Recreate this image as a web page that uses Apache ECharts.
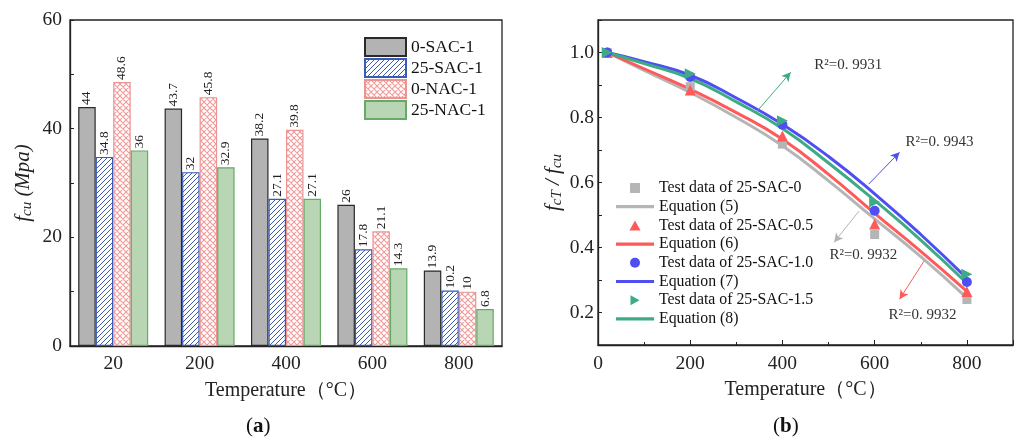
<!DOCTYPE html>
<html>
<head>
<meta charset="utf-8">
<script src="https://cdn.jsdelivr.net/npm/echarts@6/dist/echarts.min.js"></script>
<style>html,body{margin:0;padding:0;background:#fff;}#c{width:1016px;height:442px;}</style>
</head>
<body>
<div id="c"></div>
<script>
// ---- Panel (a) data ----
const categories = ['20', '200', '400', '600', '800'];
const sac0_1 = [44, 43.7, 38.2, 26, 13.9];
const sac25_1 = [34.8, 32, 27.1, 17.8, 10.2];
const nac0_1 = [48.6, 45.8, 39.8, 21.1, 10];
const nac25_1 = [36, 32.9, 27.1, 14.3, 6.8];
const barNames = ['0-SAC-1', '25-SAC-1', '0-NAC-1', '25-NAC-1'];

// ---- Panel (b) data ----
const testX = [20, 200, 400, 600, 800];
const test0 = [1.0, 0.895, 0.718, 0.44, 0.24];
const test05 = [1.0, 0.885, 0.743, 0.472, 0.265];
const test10 = [1.0, 0.925, 0.778, 0.513, 0.294];
const test15 = [1.0, 0.935, 0.79, 0.54, 0.318];
const eqX = [20, 100, 200, 300, 400, 500, 600, 700, 800];
const eq5 = [1.0, 0.945, 0.877, 0.80, 0.713, 0.605, 0.488, 0.372, 0.245];
const eq6 = [1.0, 0.95, 0.887, 0.815, 0.733, 0.625, 0.505, 0.388, 0.265];
const eq7 = [1.0, 0.972, 0.93, 0.86, 0.779, 0.68, 0.565, 0.44, 0.305];
const eq8 = [1.0, 0.966, 0.92, 0.848, 0.766, 0.66, 0.545, 0.423, 0.29];
const yTicksB = ['0.2', '0.4', '0.6', '0.8', '1.0'];

// annotation arrows / R² labels (data coordinates)
const arrowGreen = [[343, 0.816], [418, 0.939]];
const arrowBlue = [[587, 0.595], [654, 0.693]];
const arrowGray = [[566, 0.512], [512, 0.416]];
const arrowRed = [[707, 0.358], [654, 0.241]];
const textGreen = [458, 0.961];
const textBlue = [656, 0.724];
const textGray = [491, 0.376];
const textRed = [619, 0.192];
const r2Green = 'R²=0. 9931', r2Blue = 'R²=0. 9943', r2Gray = 'R²=0. 9932', r2Red = 'R²=0. 9932';

const SERIF = '"Liberation Serif", "Times New Roman", serif';

function hatch() {
  const c = document.createElement('canvas'); c.width = 5; c.height = 5;
  const g = c.getContext('2d');
  g.fillStyle = '#fff'; g.fillRect(0, 0, 5, 5);
  g.strokeStyle = '#3a5ab5'; g.lineWidth = 1;
  g.beginPath();
  g.moveTo(0, 5); g.lineTo(5, 0);
  g.moveTo(-1, 1); g.lineTo(1, -1);
  g.moveTo(4, 6); g.lineTo(6, 4);
  g.stroke();
  return c;
}
function cross() {
  const c = document.createElement('canvas'); c.width = 6; c.height = 6;
  const g = c.getContext('2d');
  g.fillStyle = '#fff'; g.fillRect(0, 0, 6, 6);
  g.strokeStyle = '#f09a9a'; g.lineWidth = 1.1;
  g.beginPath();
  g.moveTo(0, 6); g.lineTo(6, 0);
  g.moveTo(0, 0); g.lineTo(6, 6);
  g.moveTo(-1, 1); g.lineTo(1, -1);
  g.moveTo(5, 7); g.lineTo(7, 5);
  g.moveTo(-1, 5); g.lineTo(1, 7);
  g.moveTo(5, -1); g.lineTo(7, 1);
  g.stroke();
  return c;
}

const barStyles = [
  { color: '#b3b3b3', borderColor: '#2a2a2a', borderWidth: 1.2 },
  { color: { image: hatch(), repeat: 'repeat' }, borderColor: '#3a5ab8', borderWidth: 1.2 },
  { color: { image: cross(), repeat: 'repeat' }, borderColor: '#ec9494', borderWidth: 1.2 },
  { color: '#b8d6b3', borderColor: '#66aa66', borderWidth: 1.2 }
];
const barData = [sac0_1, sac25_1, nac0_1, nac25_1];

const barSeries = barData.map((d, i) => ({
  name: barNames[i], type: 'bar', xAxisIndex: 0, yAxisIndex: 0,
  data: d, barWidth: 17.5, barGap: '0%',
  itemStyle: barStyles[i],
  label: {
    show: true, position: 'top', rotate: 90, align: 'left', verticalAlign: 'middle',
    distance: 2, fontFamily: SERIF, fontSize: 13.5, color: '#222'
  }
}));

function pairs(xs, ys) { return xs.map((x, i) => [x, ys[i]]); }

const C_GRAY = '#b5b5b5', C_RED = '#ff5a5a', C_BLUE = '#4e4ef2', C_GREEN = '#3dab84';

function arrowMark(a, color) {
  return {
    silent: true, symbol: ['none', 'arrow'], symbolSize: [7, 9],
    lineStyle: { color: color, width: 1, type: 'solid' },
    label: { show: false }, emphasis: { disabled: true },
    data: [[{ coord: a[0] }, { coord: a[1] }]]
  };
}
function textMark(p, txt) {
  return {
    silent: true,
    data: [{ coord: p, symbol: 'circle', symbolSize: 0,
      label: { show: true, position: 'right', distance: 5, formatter: txt,
        fontFamily: SERIF, fontSize: 15, color: '#333' } }]
  };
}

const lineBase = (name, ys, color, arrow, txt) => ({
  name: name, type: 'line', xAxisIndex: 1, yAxisIndex: 1,
  data: pairs(eqX, ys), smooth: 0.5, symbol: 'none', showSymbol: false,
  lineStyle: { color: color, width: 3 }, itemStyle: { color: color }, z: 3,
  markLine: arrowMark(arrow, color), markPoint: textMark(txt[0], txt[1])
});
const scat = (name, ys, symbol, color, size, rot) => ({
  name: name, type: 'scatter', xAxisIndex: 1, yAxisIndex: 1,
  data: pairs(testX, ys), symbol: symbol, symbolSize: size, symbolRotate: rot || 0,
  itemStyle: { color: color, opacity: 1 }, z: 5
});

const rightSeries = [
  lineBase('Equation (5)', eq5, C_GRAY, arrowGray, [textGray, r2Gray]),
  lineBase('Equation (6)', eq6, C_RED, arrowRed, [textRed, r2Red]),
  lineBase('Equation (7)', eq7, C_BLUE, arrowBlue, [textBlue, r2Blue]),
  lineBase('Equation (8)', eq8, C_GREEN, arrowGreen, [textGreen, r2Green]),
  scat('Test data of 25-SAC-0', test0, 'rect', C_GRAY, 9),
  scat('Test data of 25-SAC-0.5', test05, 'triangle', C_RED, 11),
  scat('Test data of 25-SAC-1.0', test10, 'circle', C_BLUE, 10),
  scat('Test data of 25-SAC-1.5', test15, 'triangle', C_GREEN, 11, -90)
];

const ICON_LINE = 'path://M0,0H38V3.2H0Z';
const ICON_SQ = 'path://M0,0H9V9H0Z';
const ICON_TRI = 'path://M5,0L10,9L0,9Z';
const ICON_RTRI = 'path://M0,0L9,5L0,10Z';
const ICON_CIR = 'circle';

const axisLineStyle = { lineStyle: { color: '#222', width: 1.3 } };
const yNameRich = {
  i: { fontFamily: SERIF, fontStyle: 'italic', fontSize: 21, color: '#222', lineHeight: 24 },
  s: { fontFamily: SERIF, fontStyle: 'italic', fontSize: 15, color: '#222', verticalAlign: 'bottom', lineHeight: 20 }
};

const option = {
  animation: false,
  backgroundColor: '#fff',
  graphic: [
    { type: 'text', left: 246, top: 416, z: 10, style: {
      text: '{n|(}{b|a}{n|)}', rich: { n: { fontFamily: SERIF, fontSize: 21, fill: '#111' }, b: { fontFamily: SERIF, fontSize: 21, fontWeight: 'bold', fill: '#111' } } } },
    { type: 'text', left: 773, top: 416, z: 10, style: {
      text: '{n|(}{b|b}{n|)}', rich: { n: { fontFamily: SERIF, fontSize: 21, fill: '#111' }, b: { fontFamily: SERIF, fontSize: 21, fontWeight: 'bold', fill: '#111' } } } }
  ],
  grid: [
    { left: 70, top: 20, width: 432, height: 326, show: true, borderColor: '#222', borderWidth: 1.3, backgroundColor: 'transparent' },
    { left: 598, top: 20, width: 420, height: 325, show: true, borderColor: '#222', borderWidth: 1.3, backgroundColor: 'transparent' }
  ],
  legend: [
    {
      data: barNames, orient: 'vertical', left: 359, top: 32, itemWidth: 41, itemHeight: 18, itemGap: 1,
      icon: 'rect', textStyle: { fontFamily: SERIF, fontSize: 17.5, color: '#111' },
      selectedMode: false
    },
    {
      data: [
        { name: 'Test data of 25-SAC-0', icon: ICON_SQ },
        { name: 'Equation (5)', icon: ICON_LINE },
        { name: 'Test data of 25-SAC-0.5', icon: ICON_TRI },
        { name: 'Equation (6)', icon: ICON_LINE },
        { name: 'Test data of 25-SAC-1.0', icon: ICON_CIR },
        { name: 'Equation (7)', icon: ICON_LINE },
        { name: 'Test data of 25-SAC-1.5', icon: ICON_RTRI },
        { name: 'Equation (8)', icon: ICON_LINE }
      ],
      symbolKeepAspect: true,
      orient: 'vertical', left: 611, top: 175, itemWidth: 38, itemHeight: 10, itemGap: 2.7,
      textStyle: { fontFamily: SERIF, fontSize: 15.8, color: '#111', lineHeight: 16 },
      selectedMode: false
    }
  ],
  xAxis: [
    {
      type: 'category', gridIndex: 0, data: categories,
      axisLine: axisLineStyle,
      axisTick: { inside: true, length: 4, alignWithLabel: false, lineStyle: { color: '#222' } },
      axisLabel: { fontFamily: SERIF, fontSize: 19.5, color: '#222', margin: 8 },
      name: 'Temperature（°C）', nameLocation: 'middle', nameGap: 35,
      nameTextStyle: { fontFamily: SERIF, fontSize: 20, color: '#222' }
    },
    {
      type: 'value', gridIndex: 1, min: 0, max: 900, interval: 200,
      axisLine: axisLineStyle,
      axisTick: { inside: true, length: 5, lineStyle: { color: '#222' } },
      minorTick: { show: true, splitNumber: 2, length: 3, lineStyle: { color: '#222' } },
      splitLine: { show: false },
      axisLabel: { fontFamily: SERIF, fontSize: 19.5, color: '#222', margin: 9,
        formatter: v => (v > 850 ? '' : String(v)) },
      name: 'Temperature（°C）', nameLocation: 'middle', nameGap: 35,
      nameTextStyle: { fontFamily: SERIF, fontSize: 20, color: '#222' }
    }
  ],
  yAxis: [
    {
      type: 'value', gridIndex: 0, min: 0, max: 60, interval: 20,
      axisLine: { show: true, lineStyle: { color: '#222', width: 1.3 } },
      axisTick: { show: true, inside: true, length: 4, lineStyle: { color: '#222' } },
      minorTick: { show: true, splitNumber: 2, length: 4, lineStyle: { color: '#222' } },
      splitLine: { show: false },
      axisLabel: { fontFamily: SERIF, fontSize: 19.5, color: '#222', margin: 8 },
      name: '{i|f}{s|cu}{i| (Mpa)}', nameLocation: 'middle', nameGap: 35, nameRotate: 90,
      nameTextStyle: { rich: yNameRich }
    },
    {
      type: 'value', gridIndex: 1, min: 0.1, max: 1.1, interval: 0.1,
      axisLine: { show: true, lineStyle: { color: '#222', width: 1.3 } },
      axisTick: { show: true, inside: true, length: 4, lineStyle: { color: '#222' } },
      splitLine: { show: false },
      axisLabel: { fontFamily: SERIF, fontSize: 19.5, color: '#222', margin: 4,
        formatter: v => { const r = Math.round(v * 10); const s = (r / 10).toFixed(1); return yTicksB.indexOf(s) >= 0 ? s : ''; } },
      name: '{i|f}{s|cT}{i| / f}{s|cu}', nameLocation: 'middle', nameGap: 33, nameRotate: 90,
      nameTextStyle: { rich: yNameRich }
    }
  ],
  series: barSeries.concat(rightSeries)
};

const chart = echarts.init(document.getElementById('c'), null, { renderer: 'canvas' });
chart.setOption(option);
</script>
</body>
</html>
